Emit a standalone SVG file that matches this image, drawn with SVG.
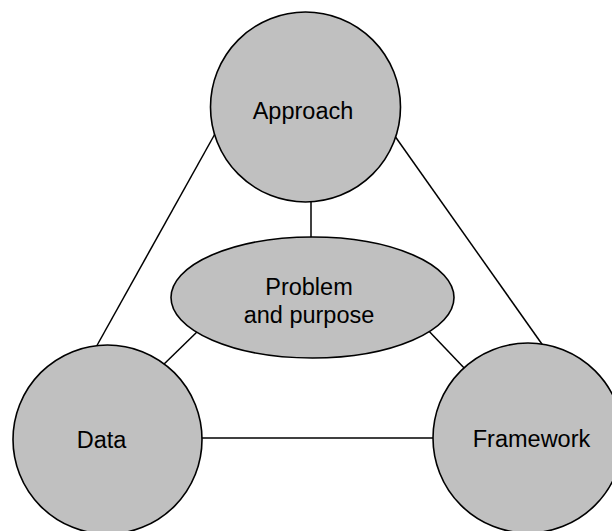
<svg xmlns="http://www.w3.org/2000/svg" width="612" height="531" viewBox="0 0 612 531">
<style>
.node{fill:#c0c0c0;stroke:#000;stroke-width:1.6}
.edge{stroke:#000;stroke-width:1.5;fill:none}
.lbl{font-family:"Liberation Sans",Arial,sans-serif;font-size:23.5px;fill:#000;text-anchor:middle}
</style>
<rect width="612" height="531" fill="#fff"/>
<g id="connectors">
<line class="edge" x1="311" y1="195" x2="311" y2="245"/>
<line class="edge" x1="216" y1="132" x2="95" y2="349"/>
<line class="edge" x1="392" y1="132" x2="544" y2="347"/>
<line class="edge" x1="200" y1="329" x2="160" y2="368"/>
<line class="edge" x1="425" y1="327" x2="467" y2="371"/>
<line class="edge" x1="195" y1="438" x2="440" y2="438"/>
</g>
<g id="approach">
<circle class="node" cx="305.5" cy="107" r="95"/>
<text class="lbl" x="303" y="119">Approach</text>
</g>
<g id="problem">
<ellipse class="node" cx="312.5" cy="297.5" rx="141.5" ry="60.5"/>
<text class="lbl" x="309" y="295">Problem</text>
<text class="lbl" x="309" y="323">and purpose</text>
</g>
<g id="data">
<circle class="node" cx="107.5" cy="439.5" r="94.5"/>
<text class="lbl" x="101.5" y="448">Data</text>
</g>
<g id="framework">
<circle class="node" cx="528" cy="438" r="95"/>
<text class="lbl" x="531.5" y="447">Framework</text>
</g>
</svg>
